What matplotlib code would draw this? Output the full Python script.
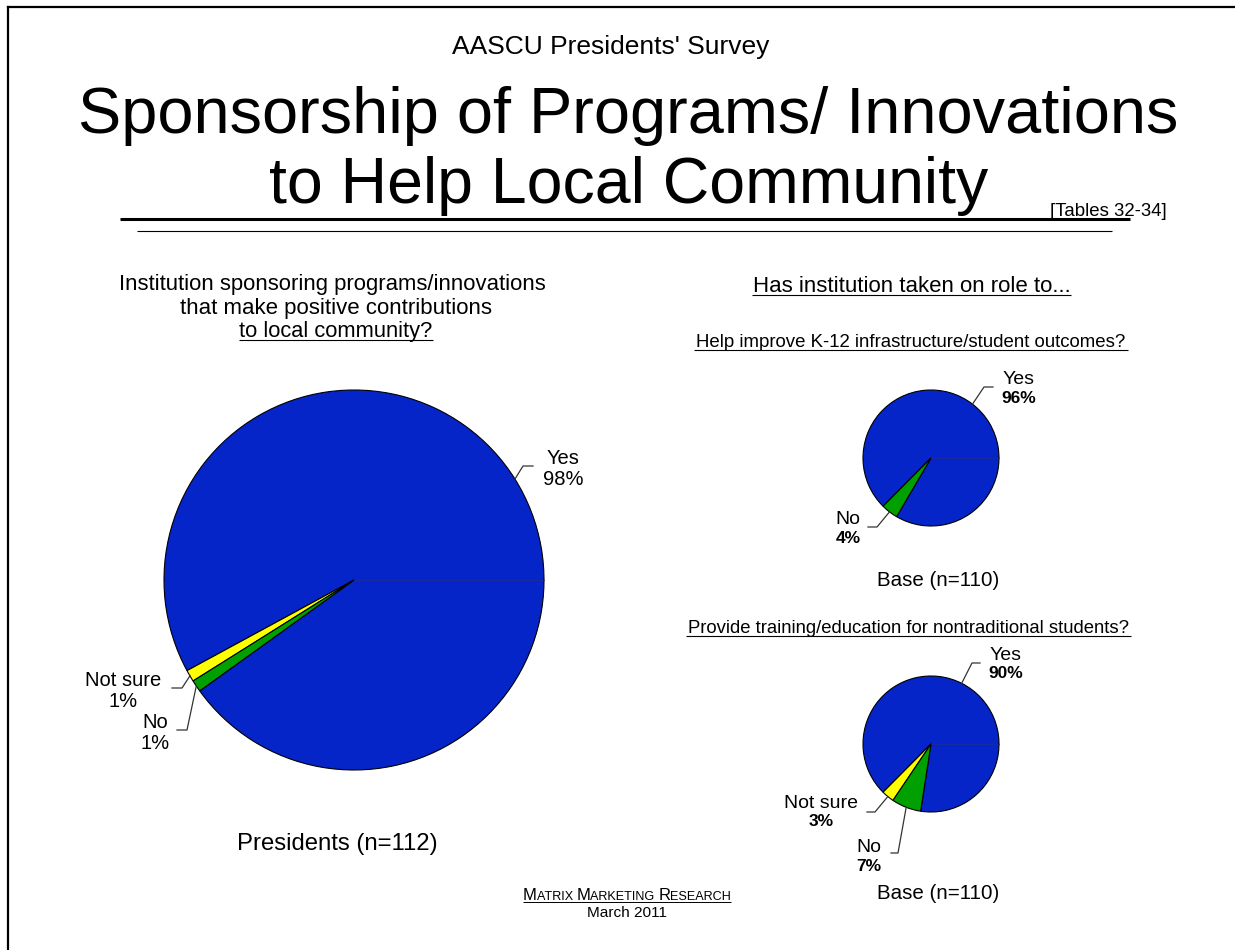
import numpy as np
import matplotlib.pyplot as plt
from matplotlib.offsetbox import TextArea, HPacker, AnnotationBbox

W, H = 1235, 950

# answers to the three survey questions (percent of respondents)
sponsor_labels = ['Yes', 'Not sure', 'No']
sponsor_pct = [98, 1, 1]
k12_labels = ['Yes', 'No']
k12_pct = [96, 4]
nontrad_labels = ['Yes', 'Not sure', 'No']
nontrad_pct = [90, 3, 7]

colors = {'Yes': '#0625c8', 'Not sure': '#ffff00', 'No': '#00a000'}
FONT = 'Liberation Sans'

fig = plt.figure(figsize=(W / 100, H / 100), dpi=100)
ax = fig.add_axes([0, 0, 1, 1])
fig.canvas.draw()
renderer = fig.canvas.get_renderer()


def put(x, y, s, width, **kw):
    # centred text whose rendered width is scaled to `width` pixels
    kw.setdefault('family', FONT)
    t = ax.text(x, H - y, s, fontsize=10, ha='center', va='baseline', **kw)
    w = t.get_window_extent(renderer).width
    t.set_fontsize(10 * width / w)
    return t


def hline(x0, x1, y, lw=0.8):
    ax.plot([x0, x1], [H - y, H - y], color='black', lw=lw, solid_capstyle='butt')


def draw_pie(cx, cy, r, labels, vals, start):
    wedges, _ = ax.pie(vals, colors=[colors[l] for l in labels], startangle=start,
                       center=(cx, H - cy), radius=r, counterclock=True,
                       wedgeprops=dict(edgecolor='black', linewidth=0.8))
    ax.plot([cx, cx + r], [H - cy, H - cy], color='#1c2c9c', lw=0.6)
    return wedges


def callout(wedge, elbow, end, name, pct, x, y, size, pct_size, gap, bold=False):
    cx, cy = wedge.center
    mid = np.deg2rad((wedge.theta1 + wedge.theta2) / 2)
    p0 = (cx + wedge.r * np.cos(mid), cy + wedge.r * np.sin(mid))
    ax.plot([p0[0], elbow[0], end[0]], [p0[1], H - elbow[1], H - end[1]],
            color='#333333', lw=0.9)
    ax.text(x, H - y, name, fontsize=size, family=FONT, ha='center', va='center')
    ax.text(x, H - y - gap, f'{pct}%', fontsize=pct_size, family=FONT, ha='center',
            va='center', fontweight='bold' if bold else 'normal')


# page frame and header
ax.plot([8, W], [H - 7, H - 7], color='black', lw=1.6)
ax.plot([8, 8], [H - 7, 0], color='black', lw=1.6)
put(611, 54, "AASCU Presidents' Survey", 318)
put(628.5, 133, 'Sponsorship of Programs/ Innovations', 1103)
put(629, 203, 'to Help Local Community', 722)
put(1108.5, 216, '[Tables 32-34]', 117)
hline(120, 1130, 219, lw=2.2)
hline(137, 1112, 231, lw=0.8)

# left question
put(332.5, 290, 'Institution sponsoring programs/innovations', 427)
put(336.5, 314, 'that make positive contributions', 313)
put(336, 337, 'to local community?', 194)
hline(239, 433, 340)

w1 = draw_pie(354, 580, 190, sponsor_labels, sponsor_pct, -144.3)
callout(w1[0], (523, 466), (533, 466), 'Yes', sponsor_pct[0], 563, 459, 14.5, 14.5, 20.5)
callout(w1[1], (182, 688), (172, 688), 'Not sure', sponsor_pct[1], 123, 681, 14.5, 14.5, 20.5)
callout(w1[2], (187, 730), (177, 730), 'No', sponsor_pct[2], 155, 723, 14.5, 14.5, 20.5)
put(337.5, 850, 'Presidents (n=112)', 201)

# right questions
put(911.5, 292, 'Has institution taken on role to...', 319)
hline(752, 1071, 295)
put(911, 347, 'Help improve K-12 infrastructure/student outcomes?', 434)
hline(694, 1128, 350)

w2 = draw_pie(931, 458, 68, k12_labels, k12_pct, -120.4)
callout(w2[0], (984, 387), (993, 387), 'Yes', k12_pct[0], 1019, 380, 14, 12.5, 18.5, bold=True)
callout(w2[1], (877, 527), (868, 527), 'No', k12_pct[1], 848, 520, 14, 12.5, 18.5, bold=True)
put(938, 586, 'Base (n=110)', 122)

put(908.5, 633, 'Provide training/education for nontraditional students?', 445)
hline(686, 1131, 636)

w3 = draw_pie(931, 744, 68, nontrad_labels, nontrad_pct, -98.8)
callout(w3[0], (972, 663), (980, 663), 'Yes', nontrad_pct[0], 1006, 655, 14, 12.5, 18.5, bold=True)
callout(w3[1], (875, 812), (867, 812), 'Not sure', nontrad_pct[1], 821, 803, 14, 12.5, 18.5, bold=True)
callout(w3[2], (898, 853), (891, 853), 'No', nontrad_pct[2], 869, 848, 14, 12.5, 18.5, bold=True)
put(938, 899, 'Base (n=110)', 122)

# footer in small caps
big = dict(fontsize=12, family=FONT)
small = dict(fontsize=9.1, family=FONT)
parts = [('M', big), ('ATRIX ', small), ('M', big), ('ARKETING ', small),
         ('R', big), ('ESEARCH', small)]
box = HPacker(children=[TextArea(s, textprops=p) for s, p in parts],
              align='baseline', pad=0, sep=0)
ax.add_artist(AnnotationBbox(box, (627, H - 895), frameon=False,
                             box_alignment=(0.5, 0.5)))
hline(523, 731, 902, lw=0.7)
put(627, 917, 'March 2011', 80)

ax.set_xlim(0, W)
ax.set_ylim(0, H)
ax.set_aspect('auto')
ax.axis('off')
fig.savefig('out.png', dpi=100, facecolor='white')
